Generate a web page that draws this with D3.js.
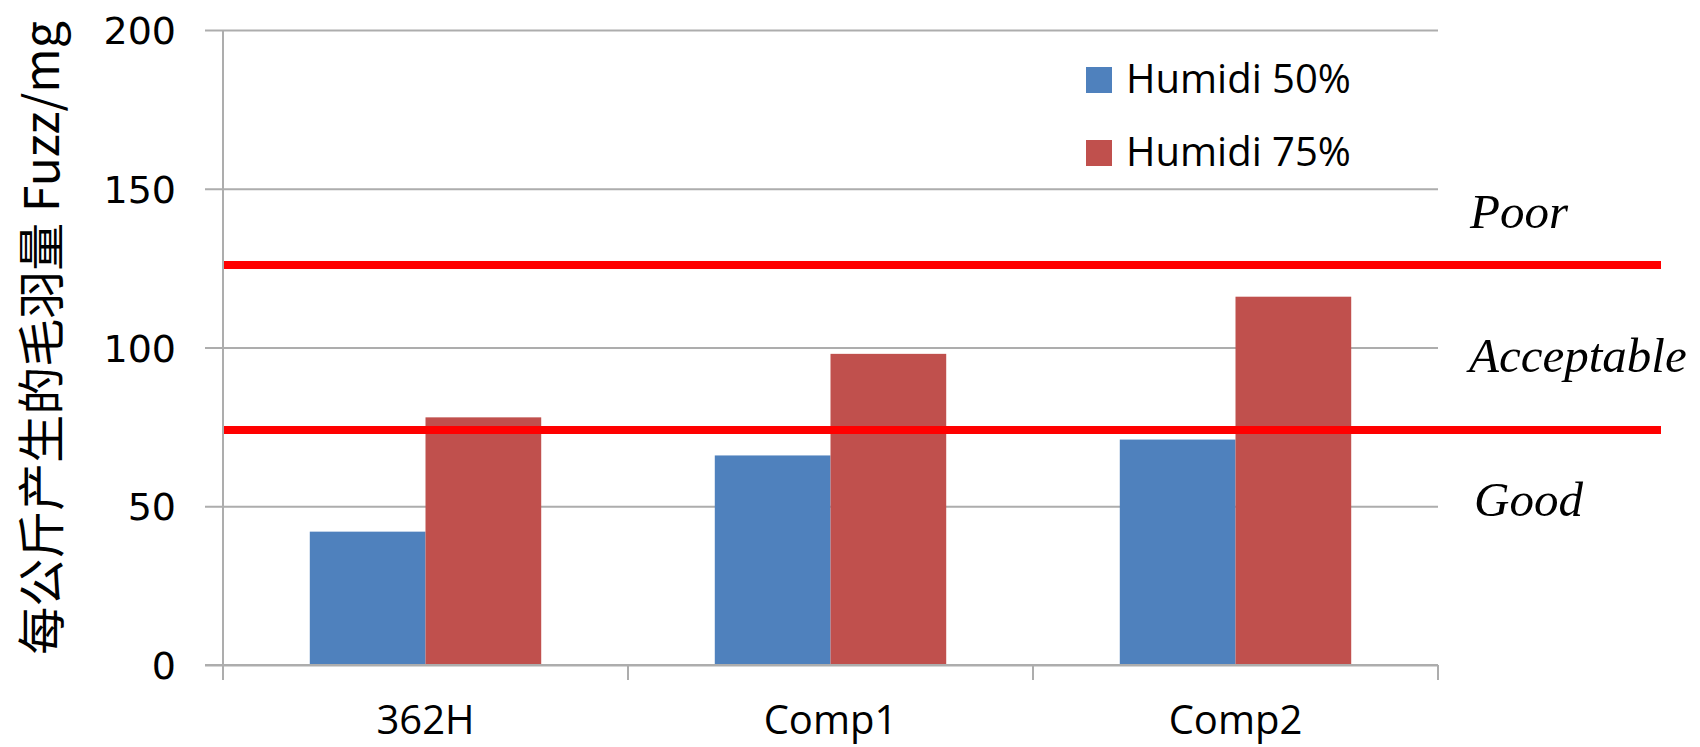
<!DOCTYPE html>
<html>
<head>
<meta charset="utf-8">
<script src="https://cdn.jsdelivr.net/npm/d3@7"></script>
<style>
  body { margin: 0; background: #fff; }
  svg { display: block; }
</style>
</head>
<body>
<div id="chart"></div>
<script>
// Datos del gráfico
const categories = ["362H", "Comp1", "Comp2"];
const humidi50 = [42, 66, 71];
const humidi75 = [78, 98, 116];
const seriesNames = ["Humidi 50%", "Humidi 75%"];
const yTicks = [0, 50, 100, 150, 200];
const limits = [126, 74];
const zoneLabels = ["Poor", "Acceptable", "Good"];

const width = 1700;
const height = 747;
const margin = { top: 30, right: 262, bottom: 82, left: 223 };
const colors = ["#4F81BD", "#C0504D"];
const gridColor = "#ADADAD";

const svg = d3.select("#chart")
    .append("svg")
    .attr("width", width)
    .attr("height", height);

const x = d3.scaleBand()
    .domain(categories)
    .range([margin.left, width - margin.right])
    .padding(0);

// gap width 150% como en Excel: el grupo ocupa 2/3.5 de la banda
const x1 = d3.scaleBand()
    .domain(seriesNames)
    .range([x.bandwidth() * 0.75 / 3.5, x.bandwidth() * 2.75 / 3.5])
    .padding(0);

const y = d3.scaleLinear()
    .domain([0, 200])
    .range([height - margin.bottom, margin.top]);

// Rejilla + eje Y
const yAxis = svg.append("g")
    .attr("transform", `translate(${margin.left},0)`)
    .call(d3.axisLeft(y)
        .tickValues(yTicks)
        .tickSize(-(width - margin.right - margin.left))
        .tickSizeOuter(0)
        .tickFormat(""));
yAxis.select(".domain").remove();
yAxis.selectAll(".tick line")
    .attr("x1", -18)
    .attr("stroke", gridColor)
    .attr("stroke-width", 2);

// línea vertical del eje
svg.append("line")
    .attr("x1", margin.left).attr("x2", margin.left)
    .attr("y1", y(200)).attr("y2", y(0) + 15)
    .attr("stroke", gridColor)
    .attr("stroke-width", 2);

// etiquetas Y
svg.append("g").selectAll("text")
    .data(yTicks)
    .enter().append("text")
    .attr("x", 176)
    .attr("y", d => y(d))
    .attr("dy", "0.37em")
    .attr("text-anchor", "end")
    .attr("font-family", "DejaVu Sans, Verdana, sans-serif")
    .attr("font-size", 38)
    .attr("fill", "#000")
    .text(d => d);

// marcas entre categorías en el eje X
const boundaries = categories.map(c => x(c) + x.bandwidth());
svg.append("g").selectAll("line")
    .data(boundaries)
    .enter().append("line")
    .attr("x1", d => d).attr("x2", d => d)
    .attr("y1", y(0)).attr("y2", y(0) + 15)
    .attr("stroke", gridColor)
    .attr("stroke-width", 2);

// barras
const series = [humidi50, humidi75];
series.forEach((vals, si) => {
    svg.append("g").selectAll("rect")
        .data(vals)
        .enter().append("rect")
        .attr("x", (d, i) => x(categories[i]) + x1(seriesNames[si]))
        .attr("y", d => y(d))
        .attr("width", x1.bandwidth())
        .attr("height", d => y(0) - y(d))
        .attr("fill", colors[si]);
});

// redibujar línea 0 encima de las barras
svg.append("line")
    .attr("x1", margin.left - 18).attr("x2", width - margin.right)
    .attr("y1", y(0)).attr("y2", y(0))
    .attr("stroke", gridColor)
    .attr("stroke-width", 2);

// etiquetas de categoría
svg.append("g").selectAll("text")
    .data(categories)
    .enter().append("text")
    .attr("x", d => x(d) + x.bandwidth() / 2)
    .attr("y", 734)
    .attr("text-anchor", "middle")
    .attr("font-family", "Open Sans, sans-serif")
    .attr("font-size", 40)
    .attr("fill", "#000")
    .text(d => d);

// líneas límite rojas
svg.append("g").selectAll("line")
    .data(limits)
    .enter().append("line")
    .attr("x1", 224).attr("x2", 1661)
    .attr("y1", d => y(d)).attr("y2", d => y(d))
    .attr("stroke", "#FF0000")
    .attr("stroke-width", 8);

// etiquetas de zona
const zoneX = [1470, 1469, 1474];
const zoneY = [228, 372, 516];
svg.append("g").selectAll("text")
    .data(zoneLabels)
    .enter().append("text")
    .attr("x", (d, i) => zoneX[i])
    .attr("y", (d, i) => zoneY[i])
    .attr("font-family", "Liberation Serif, serif")
    .attr("font-style", "italic")
    .attr("font-size", 49)
    .attr("fill", "#000")
    .text(d => d);

// leyenda
const legend = svg.append("g");
seriesNames.forEach((name, i) => {
    const ly = 67 + i * 73;
    legend.append("rect")
        .attr("x", 1086).attr("y", ly)
        .attr("width", 26).attr("height", 26)
        .attr("fill", colors[i]);
    legend.append("text")
        .attr("x", 1126).attr("y", ly + 26)
        .attr("font-family", "Open Sans, sans-serif")
        .attr("font-size", 40)
        .attr("fill", "#000")
        .text(name);
});

// título del eje Y
svg.append("text")
    .attr("transform", "translate(59,338) rotate(-90)")
    .attr("text-anchor", "middle")
    .attr("font-family", "Noto Sans CJK SC, sans-serif")
    .attr("font-size", 48)
    .attr("fill", "#000")
    .text("每公斤产生的毛羽量 Fuzz/mg");
</script>
</body>
</html>
